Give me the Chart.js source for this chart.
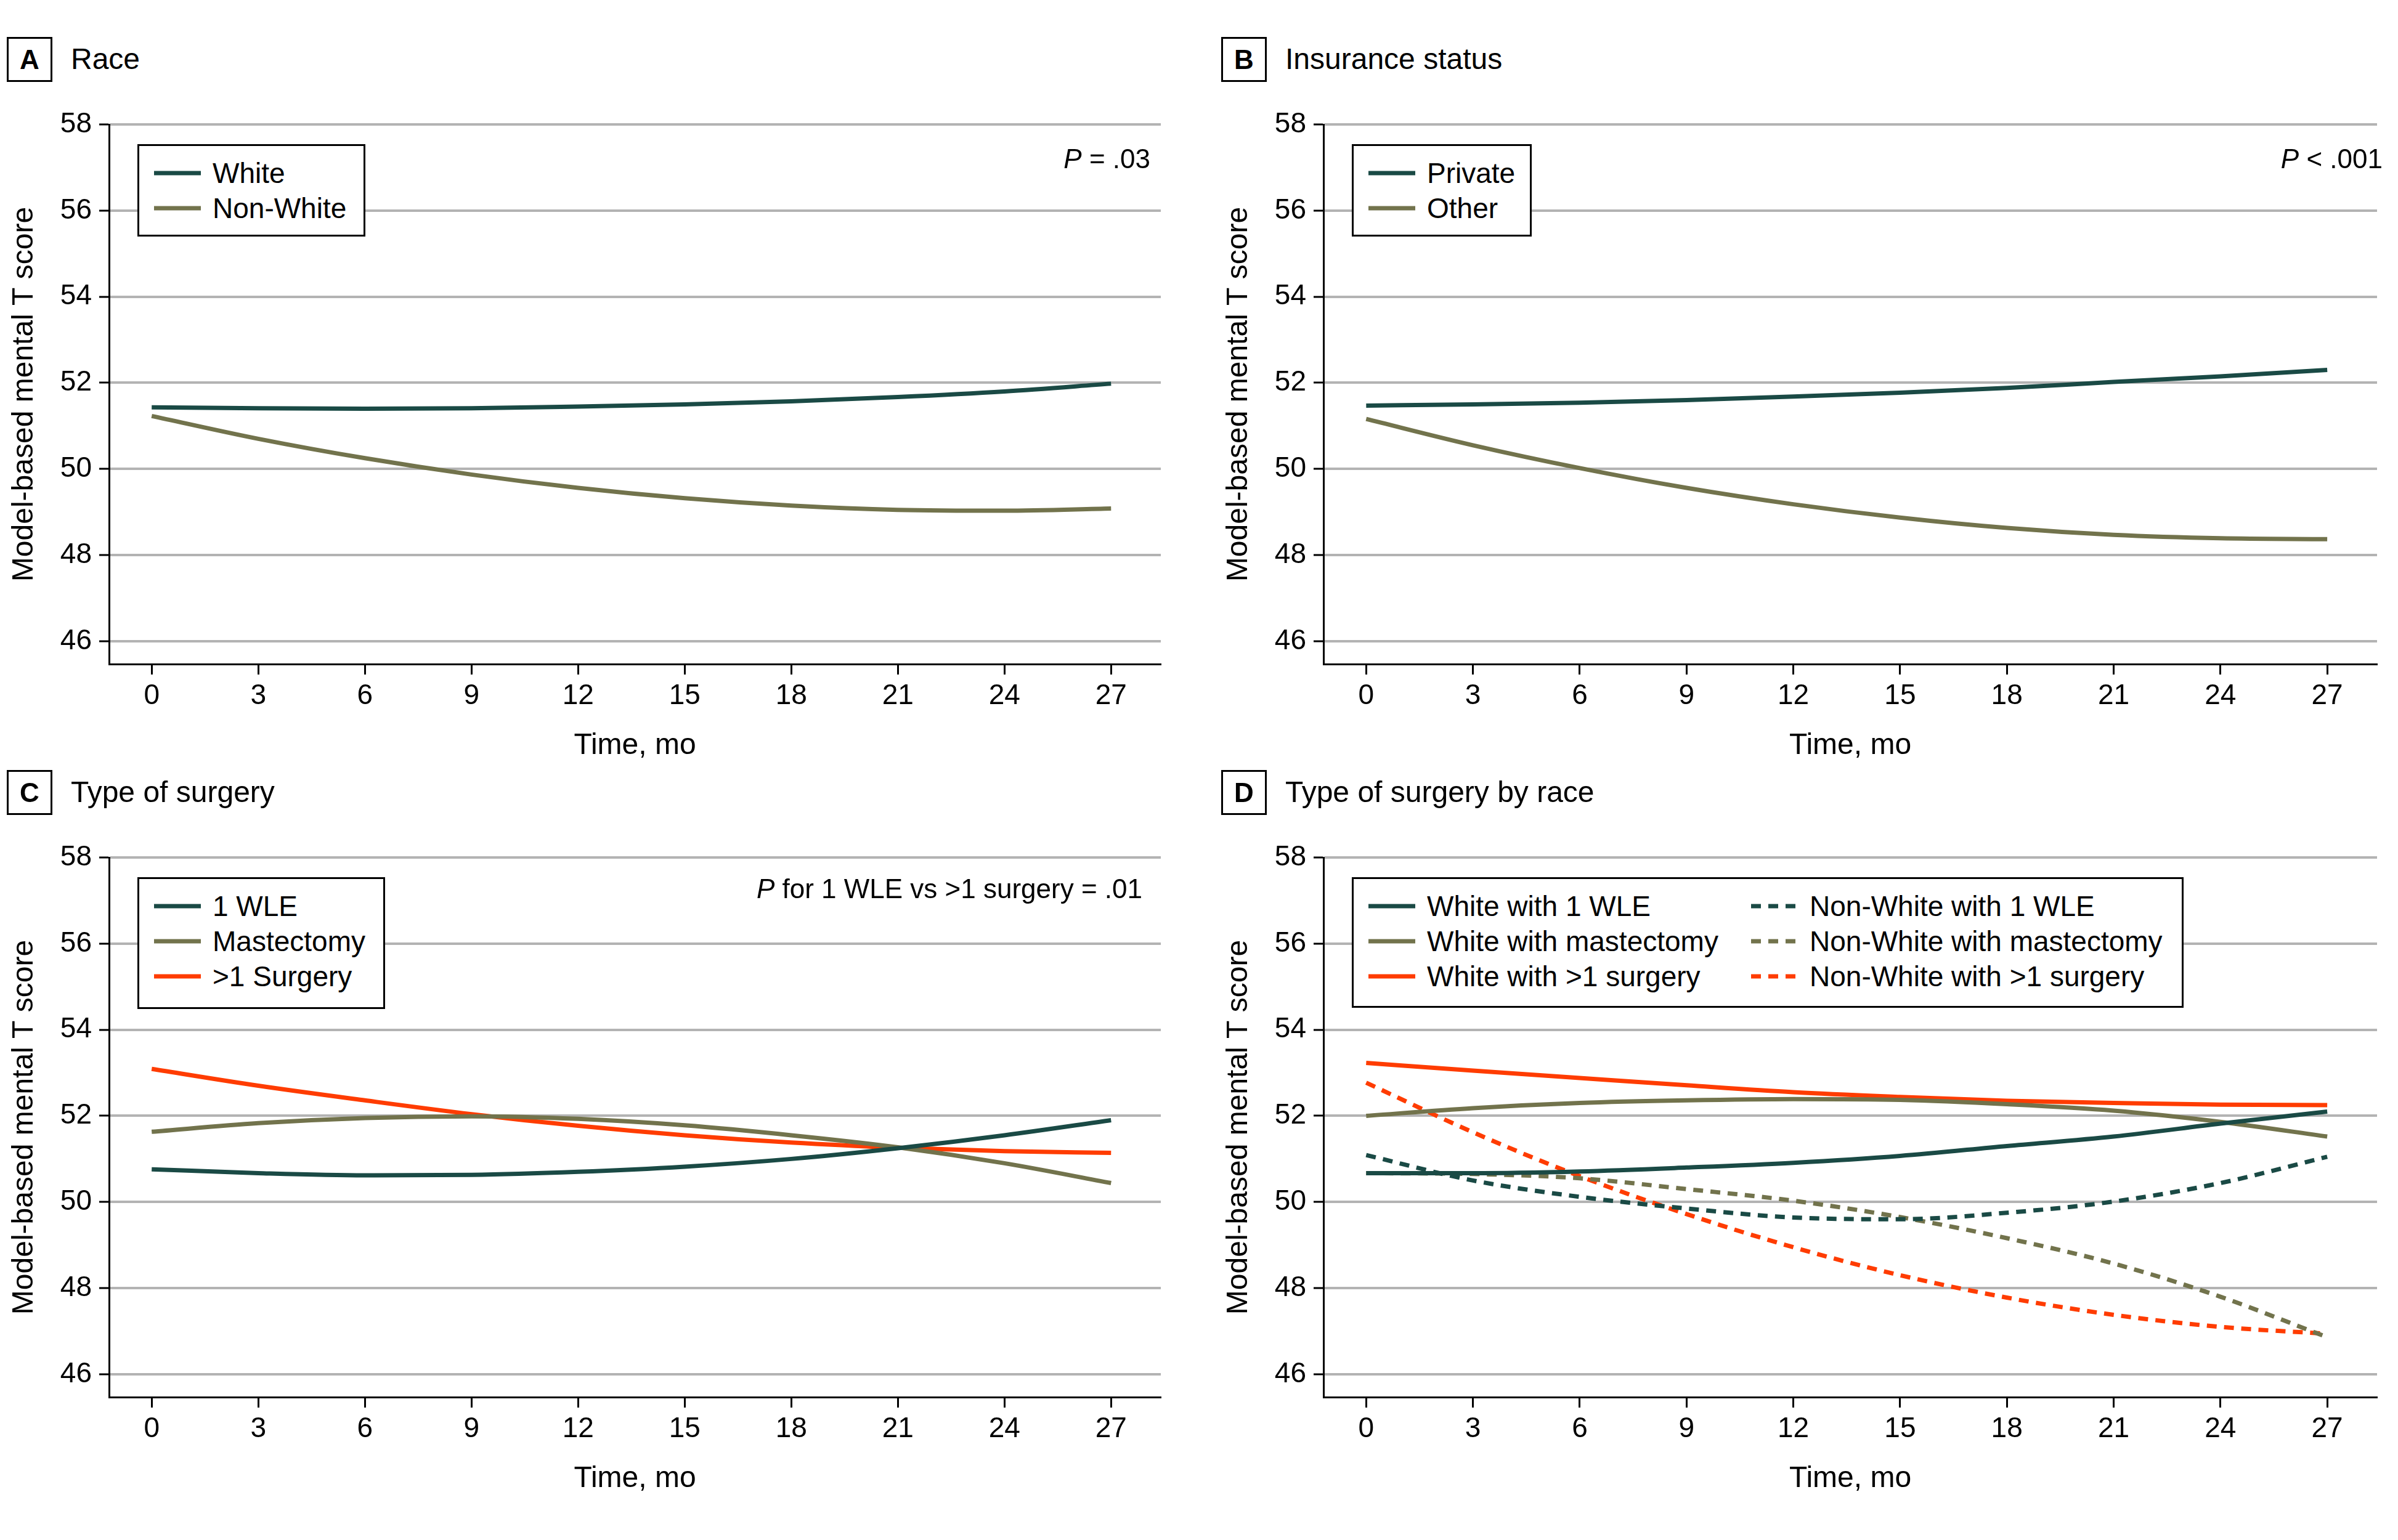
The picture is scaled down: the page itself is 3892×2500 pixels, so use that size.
<!DOCTYPE html>
<html lang="en">
<head>
  <meta charset="UTF-8">
  <title>Model-based mental T score over time</title>
  <script src="https://cdn.jsdelivr.net/npm/chart.js"></script>
  <style>
    body {
      margin: 0;
      background: #fff;
      font-family: 'Liberation Sans', Arial, sans-serif;
      color: #000;
    }
    #page {
      position: relative;
      width: 3892px;
      height: 2500px;
      overflow: hidden;
    }
    .abs { position: absolute; }
    .letter {
      border: 3px solid #000;
      box-sizing: border-box;
      width: 74px;
      height: 73px;
      font-weight: bold;
      font-size: 44px;
      line-height: 67px;
      text-align: center;
    }
    .ptitle {
      font-size: 48px;
      line-height: 48px;
      white-space: nowrap;
    }
    .legend {
      border: 3px solid #000;
      box-sizing: border-box;
      background: #fff;
      font-size: 46px;
    }
    .legend .item {
      position: absolute;
      height: 56px;
      line-height: 56px;
      white-space: nowrap;
    }
    .legend svg { position: absolute; top: 23px; left: 0; }
    .pval {
      font-size: 44px;
      line-height: 44px;
      white-space: nowrap;
      text-align: right;
    }
  </style>
</head>
<body>
<div id="page"></div>

<script>
  // months since diagnosis
  const months = [0, 3, 6, 9, 12, 15, 18, 21, 24, 27];
  const xTicks = [0, 3, 6, 9, 12, 15, 18, 21, 24, 27];
  const yTicks = [46, 48, 50, 52, 54, 56, 58];

  // A - race
  const raceWhite    = [51.43, 51.41, 51.40, 51.41, 51.45, 51.50, 51.57, 51.67, 51.80, 51.98];
  const raceNonWhite = [51.23, 50.70, 50.25, 49.87, 49.56, 49.32, 49.15, 49.05, 49.03, 49.08];

  // B - insurance
  const insPrivate = [51.47, 51.50, 51.54, 51.60, 51.68, 51.77, 51.88, 52.02, 52.15, 52.30];
  const insOther   = [51.16, 50.55, 50.02, 49.56, 49.18, 48.87, 48.63, 48.47, 48.39, 48.37];

  // C - type of surgery
  const surgWle   = [50.76, 50.67, 50.62, 50.63, 50.70, 50.82, 51.00, 51.25, 51.55, 51.90];
  const surgMast  = [51.63, 51.83, 51.95, 51.99, 51.93, 51.78, 51.55, 51.27, 50.90, 50.44];
  const surgMulti = [53.09, 52.70, 52.36, 52.04, 51.77, 51.55, 51.38, 51.26, 51.18, 51.14];

  // D - type of surgery by race
  const whiteWle   = [50.67, 50.67, 50.71, 50.80, 50.91, 51.07, 51.30, 51.52, 51.82, 52.10];
  const whiteMast  = [52.00, 52.18, 52.30, 52.36, 52.39, 52.37, 52.27, 52.12, 51.86, 51.52];
  const whiteMulti = [53.23, 53.05, 52.88, 52.71, 52.55, 52.44, 52.35, 52.30, 52.26, 52.25];
  const nonWle     = [51.09, 50.50, 50.12, 49.85, 49.64, 49.60, 49.75, 50.01, 50.44, 51.05];
  const nonMast    = [50.67, 50.65, 50.55, 50.30, 50.03, 49.65, 49.16, 48.57, 47.80, 46.86];
  const nonMulti   = [52.77, 51.62, 50.60, 49.72, 48.95, 48.30, 47.78, 47.38, 47.10, 46.94];

  const TEAL = '#1a4a45';
  const OLIVE = '#72734c';
  const RED = '#ff3c00';
  const DASH = [16, 12];

  Chart.defaults.font.family = "'Liberation Sans', Arial, sans-serif";
  Chart.defaults.font.size = 46;
  Chart.defaults.color = '#000';

  const panels = [
    {
      letter: 'A', title: 'Race', axisX: 177, plotRight: 1884, top58: 202,
      pText: '<i>P</i> = .03', pRight: 1867, pMid: 258,
      legend: { w: 370, h: 150, cols: 1, colGap: 0 },
      series: [
        { label: 'White', data: raceWhite, color: TEAL },
        { label: 'Non-White', data: raceNonWhite, color: OLIVE }
      ]
    },
    {
      letter: 'B', title: 'Insurance status', axisX: 2148, plotRight: 3858, top58: 202,
      pText: '<i>P</i> &lt; .001', pRight: 3867, pMid: 258,
      legend: { w: 292, h: 150, cols: 1, colGap: 0 },
      series: [
        { label: 'Private', data: insPrivate, color: TEAL },
        { label: 'Other', data: insOther, color: OLIVE }
      ]
    },
    {
      letter: 'C', title: 'Type of surgery', axisX: 177, plotRight: 1884, top58: 1392,
      pText: '<i>P</i> for 1 WLE vs &gt;1 surgery = .01', pRight: 1854, pMid: 1443,
      legend: { w: 402, h: 214, cols: 1, colGap: 0 },
      series: [
        { label: '1 WLE', data: surgWle, color: TEAL },
        { label: 'Mastectomy', data: surgMast, color: OLIVE },
        { label: '>1 Surgery', data: surgMulti, color: RED }
      ]
    },
    {
      letter: 'D', title: 'Type of surgery by race', axisX: 2148, plotRight: 3858, top58: 1392,
      pText: '', pRight: 0, pMid: 0,
      legend: { w: 1350, h: 212, cols: 2, colGap: 621 },
      series: [
        { label: 'White with 1 WLE', data: whiteWle, color: TEAL },
        { label: 'White with mastectomy', data: whiteMast, color: OLIVE },
        { label: 'White with >1 surgery', data: whiteMulti, color: RED },
        { label: 'Non-White with 1 WLE', data: nonWle, color: TEAL, dash: DASH },
        { label: 'Non-White with mastectomy', data: nonMast, color: OLIVE, dash: DASH },
        { label: 'Non-White with >1 surgery', data: nonMulti, color: RED, dash: DASH }
      ]
    }
  ];

  const page = document.getElementById('page');

  function el(tag, cls, css, html) {
    const e = document.createElement(tag);
    if (cls) e.className = cls;
    Object.assign(e.style, css);
    if (html !== undefined) e.innerHTML = html;
    page.appendChild(e);
    return e;
  }

  function esc(s) {
    return s.replace(/&/g, '&amp;').replace(/</g, '&lt;').replace(/>/g, '&gt;');
  }

  panels.forEach((p, i) => {
    // header
    const headTop = p.top58 - 142;
    el('div', 'abs letter', { left: (p.axisX - 166) + 'px', top: headTop + 'px' }, p.letter);
    el('div', 'abs ptitle', { left: (p.axisX - 62) + 'px', top: (headTop + 12) + 'px' }, p.title);

    // chart canvas
    const cLeft = p.axisX - 177;
    const cTop = p.top58 - 52;
    const cW = (i % 2 === 0) ? 1940 : 3892 - cLeft;
    const cH = 1120;
    const canvas = document.createElement('canvas');
    canvas.width = cW;
    canvas.height = cH;
    Object.assign(canvas.style, { position: 'absolute', left: cLeft + 'px', top: cTop + 'px' });
    page.appendChild(canvas);

    new Chart(canvas.getContext('2d'), {
      type: 'line',
      data: {
        datasets: p.series.map(s => ({
          label: s.label,
          data: months.map((m, k) => ({ x: m, y: s.data[k] })),
          borderColor: s.color,
          backgroundColor: s.color,
          borderWidth: 7,
          borderDash: s.dash || [],
          pointRadius: 0,
          fill: false,
          cubicInterpolationMode: 'monotone'
        }))
      },
      options: {
        responsive: false,
        animation: false,
        events: [],
        layout: { padding: { top: 52, right: cW - (p.plotRight - cLeft), left: 0, bottom: 0 } },
        plugins: { legend: { display: false }, tooltip: { enabled: false } },
        scales: {
          x: {
            type: 'linear',
            min: -1.2,
            max: 28.4,
            afterBuildTicks: s => { s.ticks = xTicks.map(v => ({ value: v })); },
            afterFit: s => { s.height = 192; },
            grid: { drawOnChartArea: false, tickLength: 17, tickWidth: 3, tickColor: '#000' },
            border: { display: true, color: '#000', width: 3 },
            ticks: { padding: 8, maxRotation: 0, autoSkip: false, font: { size: 46 } },
            title: {
              display: true, text: 'Time, mo',
              font: { size: 48, lineHeight: 1 },
              padding: { top: 0, bottom: 35 }
            }
          },
          y: {
            min: 45.47,
            max: 58,
            afterBuildTicks: s => { s.ticks = yTicks.map(v => ({ value: v })); },
            afterFit: s => { s.width = 177; },
            grid: { color: '#b3b3b3', lineWidth: 4, tickLength: 16, tickWidth: 3, tickColor: '#000' },
            border: { display: true, color: '#000', width: 3 },
            ticks: { padding: 12, font: { size: 46 } },
            title: {
              display: true, text: 'Model-based mental T score',
              font: { size: 48, lineHeight: 1 },
              padding: { top: 16, bottom: 0 }
            }
          }
        }
      }
    });

    // legend box inside the plot
    const lg = p.legend;
    const box = el('div', 'abs legend', {
      left: (p.axisX + 46) + 'px', top: (p.top58 + 32) + 'px',
      width: lg.w + 'px', height: lg.h + 'px'
    });
    const perCol = Math.ceil(p.series.length / lg.cols);
    p.series.forEach((s, k) => {
      const col = Math.floor(k / perCol);
      const row = k % perCol;
      const item = document.createElement('div');
      item.className = 'item';
      item.style.left = (24 + col * lg.colGap) + 'px';
      item.style.top = (16 + row * 57) + 'px';
      const dash = s.dash ? ` stroke-dasharray="${s.dash.join(' ')}"` : '';
      item.innerHTML =
        `<svg width="76" height="10"><line x1="0" y1="5" x2="76" y2="5" stroke="${s.color}" stroke-width="7"${dash}/></svg>` +
        `<span style="margin-left:95px">${esc(s.label)}</span>`;
      box.appendChild(item);
    });

    // P value annotation
    if (p.pText) {
      el('div', 'abs pval', {
        right: (3892 - p.pRight) + 'px', top: (p.pMid - 22) + 'px'
      }, p.pText);
    }
  });
</script>
</body>
</html>
